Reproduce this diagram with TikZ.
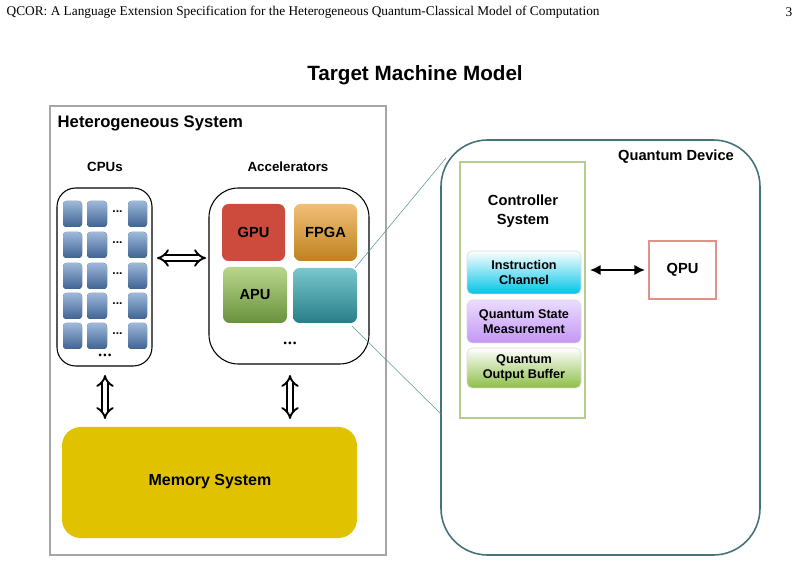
\documentclass[tikz,border=0pt]{standalone}
\usepackage{fontspec}
\setmainfont{Liberation Serif}
\newfontfamily\lab{Liberation Sans}
\usetikzlibrary{arrows.meta}
\definecolor{cpuT}{HTML}{9DB8DA}\definecolor{cpuB}{HTML}{3F6394}
\definecolor{teal1}{HTML}{5A9499}
\tikzset{
 lb/.style={font=\lab\bfseries\fontsize{10}{12}\selectfont, align=center},
 cpu/.style={draw=none, rounded corners=2.5pt, top color=cpuT, bottom color=cpuB},
 acc/.style={rounded corners=5pt, font=\lab\bfseries\fontsize{11}{13}\selectfont},
 cont/.style={rounded corners=4pt, draw=white!85!black, font=\lab\bfseries\fontsize{9.5}{11}\selectfont, align=center},
 dbl/.style={double, double distance=3pt, line width=1.4pt},
 dd/.style={font=\lab\bfseries\fontsize{7}{7}\selectfont, inner sep=0pt},
}
\begin{document}
\begin{tikzpicture}[x=0.75pt,y=-0.75pt]
\useasboundingbox (0,0) rectangle (801,563);
\node[anchor=west, font=\fontsize{10}{12}\selectfont] (hdr) at (2,12) {QCOR: A Language Extension Specification for the Heterogeneous Quantum-Classical Model of Computation};
\node[anchor=east, font=\fontsize{10}{12}\selectfont] (pg) at (797,12) {3};
\node[font=\lab\bfseries\fontsize{15.5}{18}\selectfont] (title) at (415,75) {Target Machine Model};
% heterogeneous system
\draw[line width=2pt, gray!70] (50,106) rectangle (386,555);
\node[anchor=west, font=\lab\bfseries\fontsize{12.5}{15}\selectfont] (hs) at (53,123) {Heterogeneous System};
\node[lb] (cpusl) at (105,167) {CPUs};
\node[lb] (accl) at (288,167) {Accelerators};
\draw[rounded corners=14pt, thick] (57,188) rectangle (152,366);
\foreach \y in {201,232,263,293,323}{
  \fill[cpu] (63,\y) rectangle (82,\y+26);
  \fill[cpu] (87,\y) rectangle (107,\y+26);
  \fill[cpu] (128,\y) rectangle (147,\y+26);
  \node[font=\lab\fontsize{9}{9}\selectfont, inner sep=0pt] at (117.5,\y+11) {\textbf{...}};
}
\node[dd] (cdots) at (105,356) {\textbullet\,\textbullet\,\textbullet};
\draw[rounded corners=22pt, thick] (209,188) rectangle (369,364);
\fill[acc, fill={rgb,255:red,205;green,75;blue,60}] (222,204) rectangle (285,261);
\node[acc] (gpu) at (253.5,232.5) {GPU};
\shade[acc, top color={rgb,255:red,240;green,190;blue,120}, bottom color={rgb,255:red,190;green,130;blue,30}] (294,204) rectangle (357,261);
\node[acc] (fpga) at (325.5,232.5) {FPGA};
\shade[acc, top color={rgb,255:red,185;green,215;blue,140}, bottom color={rgb,255:red,105;green,145;blue,60}] (223,267) rectangle (287,323);
\node[acc] (apu) at (255,295) {APU};
\shade[acc, top color={rgb,255:red,120;green,200;blue,205}, bottom color={rgb,255:red,40;green,125;blue,135}] (293,268) rectangle (357,323);
\coordinate (tealtop) at (355,268);
\coordinate (tealbot) at (352,326);
\node[dd] (adots) at (290,344) {\textbullet\,\textbullet\,\textbullet};
% arrows
\coordinate (h1) at (157,258); \coordinate (h2) at (206,258);
\draw[dbl, {Implies[]}-{Implies[]}] (h1) -- (h2);
\coordinate (v1a) at (105,375); \coordinate (v1b) at (105,419);
\coordinate (v2a) at (290,375); \coordinate (v2b) at (290,419);
\draw[dbl, {Implies[]}-{Implies[]}] (v1a) -- (v1b);
\draw[dbl, {Implies[]}-{Implies[]}] (v2a) -- (v2b);
% memory
\fill[rounded corners=14pt, fill={rgb,255:red,224;green,194;blue,0}] (62,427) rectangle (357,538);
\node[font=\lab\bfseries\fontsize{12}{14}\selectfont] (mem) at (210,482) {Memory System};
% quantum device
\draw[line width=1.2pt, draw={rgb,255:red,70;green,115;blue,120}, rounded corners=35pt] (441,140) rectangle (760,555);
\coordinate (qdtop) at (446,158);
\coordinate (qdbot) at (441,414);
\draw[teal1] (tealtop) -- (qdtop);
\draw[teal1] (tealbot) -- (qdbot);
\node[font=\lab\bfseries\fontsize{11}{13}\selectfont] (qdl) at (676,157) {Quantum Device};
\draw[draw={rgb,255:red,181;green,204;blue,142}, line width=1.8pt] (460,162) rectangle (585,418);
\node[font=\lab\bfseries\fontsize{11}{14}\selectfont, align=center] (cs) at (523,211) {Controller\\System};
\shade[cont, top color=white, bottom color={rgb,255:red,0;green,195;blue,230}] (467,251) rectangle (581,294);
\node[cont, draw=none] (ic) at (524,272.5) {Instruction\\Channel};
\shade[cont, top color={rgb,255:red,235;green,220;blue,255}, bottom color={rgb,255:red,195;green,150;blue,245}] (467,300) rectangle (581,343);
\node[cont, draw=none] (qsm) at (524,321.5) {Quantum State\\Measurement};
\shade[cont, top color=white, bottom color={rgb,255:red,140;green,190;blue,70}] (467,348) rectangle (581,388);
\node[cont, draw=none] (qob) at (524,368) {Quantum\\Output Buffer};
\draw[line width=1.8pt, draw={rgb,255:red,225;green,145;blue,135}] (649,241) rectangle (716,299);
\node[font=\lab\bfseries\fontsize{11}{13}\selectfont] (qpu) at (682.5,270) {QPU};
\coordinate (a1) at (590,270); \coordinate (a2) at (645,270);
\draw[line width=2pt, {Latex[length=8pt,width=8pt]}-{Latex[length=8pt,width=8pt]}] (a1) -- (a2);
\end{tikzpicture}
\end{document}
